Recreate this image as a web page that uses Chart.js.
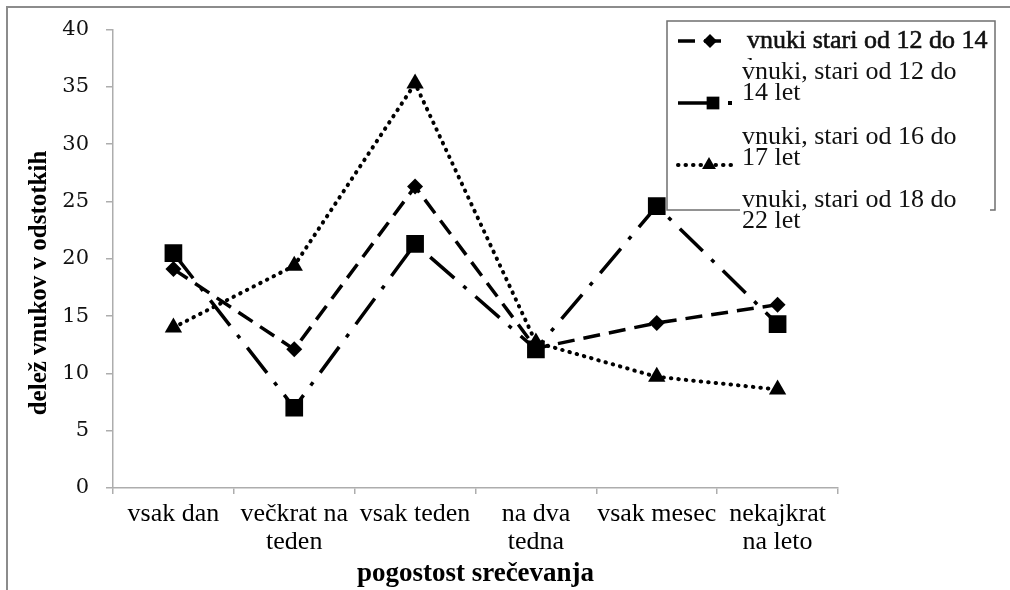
<!DOCTYPE html>
<html lang="sl">
<head>
    <meta charset="UTF-8">
    <title>Pogostost srečevanja</title>
    <script src="https://cdn.jsdelivr.net/npm/chart.js"></script>
    <style>
        body {
            margin: 0;
            background: #fff;
        }
        #chart {
            display: block;
        }
    </style>
</head>
<body>
    <canvas id="chart" width="1010" height="590"></canvas>

    <script>
        // categories (x axis)
        const categories = [
            'vsak dan',
            ['večkrat na', 'teden'],
            'vsak teden',
            ['na dva', 'tedna'],
            'vsak mesec',
            ['nekajkrat', 'na leto']
        ];

        // series values (%)
        const diamondValues = [19.1, 12.1, 26.3, 12.2, 14.4, 16.0];
        const squareValues = [20.5, 7.0, 21.3, 12.1, 24.6, 14.3];
        const triangleValues = [14.0, 19.4, 35.3, 12.7, 9.7, 8.6];

        // legend texts, as they stand in the original
        const seriesLabels = [
            'vnuki stari od 12 do 14 let',
            'vnuki, stari od 12 do 14 let',
            'vnuki, stari od 16 do 17 let'
        ];
        const legendLines = [
            ['vnuki stari od 12 do 14', 'let'],
            ['vnuki, stari od 12 do', '14 let'],
            ['vnuki, stari od 16 do', '17 let'],
            ['vnuki, stari od 18 do', '22 let']
        ];

        const yTitle = 'delež vnukov v odstotkih';
        const xTitle = 'pogostost srečevanja';
        const yMin = 0, yMax = 40, yStep = 5;

        const serif = '"Liberation Serif", "Times New Roman", serif';
        const axisGrey = '#adadad';

        // white page + grey frame on top and left edge
        const framePlugin = {
            id: 'frame',
            beforeDraw(chart) {
                const ctx = chart.ctx;
                ctx.save();
                ctx.fillStyle = '#fff';
                ctx.fillRect(0, 0, chart.width, chart.height);
                ctx.restore();
            },
            afterDraw(chart) {
                const ctx = chart.ctx;
                ctx.save();
                ctx.strokeStyle = '#8c8c8c';
                ctx.lineWidth = 2;
                ctx.beginPath();
                ctx.moveTo(7, chart.height);
                ctx.lineTo(7, 7);
                ctx.lineTo(chart.width, 7);
                ctx.stroke();
                ctx.restore();
            }
        };

        // rotated y title (sits a bit lower than the axis middle)
        const yTitlePlugin = {
            id: 'yTitle',
            afterDraw(chart) {
                const ctx = chart.ctx;
                ctx.save();
                ctx.translate(40, 283);
                ctx.rotate(-Math.PI / 2);
                ctx.font = 'bold 25px ' + serif;
                ctx.fillStyle = '#000';
                ctx.textAlign = 'center';
                ctx.textBaseline = 'middle';
                ctx.fillText(yTitle, 0, 0);
                ctx.restore();
            }
        };

        function drawMarker(ctx, style, x, y, r) {
            ctx.beginPath();
            if (style === 'rect') {
                const s = r * Math.SQRT1_2;
                ctx.rect(x - s, y - s, 2 * s, 2 * s);
            } else if (style === 'rectRot') {
                ctx.moveTo(x, y - r);
                ctx.lineTo(x + r, y);
                ctx.lineTo(x, y + r);
                ctx.lineTo(x - r, y);
                ctx.closePath();
            } else {
                const h = r * 0.866;
                ctx.moveTo(x, y - r);
                ctx.lineTo(x + h, y + r / 2);
                ctx.lineTo(x - h, y + r / 2);
                ctx.closePath();
            }
            ctx.fill();
        }

        // the odd legend box of the original
        const legendPlugin = {
            id: 'oddLegend',
            afterDraw(chart) {
                const ctx = chart.ctx;
                const ds = chart.data.datasets;
                ctx.save();

                ctx.fillStyle = '#fff';
                ctx.fillRect(667, 21, 328, 189);
                ctx.strokeStyle = '#6f6f6f';
                ctx.lineWidth = 1.5;
                ctx.strokeRect(667, 21, 328, 189);

                // symbols
                const symY = [41, 103, 165];
                const symEnd = [728, 712, 738];
                const markX = [710, 713, 709];
                const markR = [7, 9, 8];
                ds.forEach((d, i) => {
                    ctx.save();
                    ctx.strokeStyle = '#000';
                    ctx.lineWidth = d.borderWidth;
                    ctx.lineCap = d.borderCapStyle || 'butt';
                    ctx.setLineDash(d.borderDash || []);
                    ctx.beginPath();
                    ctx.moveTo(678, symY[i]);
                    ctx.lineTo(symEnd[i], symY[i]);
                    ctx.stroke();
                    ctx.restore();
                    ctx.fillStyle = '#000';
                    drawMarker(ctx, d.pointStyle, markX[i], symY[i], markR[i]);
                });
                ctx.fillRect(728, 101, 4, 4);

                ctx.font = '26px ' + serif;
                ctx.textBaseline = 'middle';
                ctx.fillStyle = '#111';

                // entry 1, second line mostly hidden
                ctx.lineWidth = 0.6;
                ctx.strokeStyle = '#111';
                ctx.fillText(legendLines[0][0], 747, 41);
                ctx.strokeText(legendLines[0][0], 747, 41);
                ctx.save();
                ctx.beginPath();
                ctx.rect(740, 50, 250, 10);
                ctx.clip();
                ctx.fillText(legendLines[0][1], 747, 68);
                ctx.restore();

                // entries 2 and 3
                ctx.fillText(legendLines[1][0], 742, 72);
                ctx.fillText(legendLines[1][1], 742, 93);
                ctx.fillText(legendLines[2][0], 742, 137);
                ctx.fillText(legendLines[2][1], 742, 158);

                // entry 4 runs over the bottom edge of the box
                ctx.fillStyle = '#fff';
                ctx.fillRect(740, 188, 250, 46);
                ctx.fillStyle = '#111';
                ctx.fillText(legendLines[3][0], 742, 200);
                ctx.fillText(legendLines[3][1], 742, 221);

                ctx.restore();
            }
        };

        new Chart(document.getElementById('chart'), {
            type: 'line',
            data: {
                labels: categories,
                datasets: [{
                    label: seriesLabels[0],
                    data: diamondValues,
                    borderColor: '#000',
                    backgroundColor: '#000',
                    borderWidth: 3.5,
                    borderDash: [17, 9],
                    pointStyle: 'rectRot',
                    pointRadius: 8,
                    pointBorderWidth: 0,
                    tension: 0
                }, {
                    label: seriesLabels[1],
                    data: squareValues,
                    borderColor: '#000',
                    backgroundColor: '#000',
                    borderWidth: 3.5,
                    borderDash: [32, 12, 4, 12],
                    pointStyle: 'rect',
                    pointRadius: 12.5,
                    pointBorderWidth: 0,
                    tension: 0
                }, {
                    label: seriesLabels[2],
                    data: triangleValues,
                    borderColor: '#000',
                    backgroundColor: '#000',
                    borderWidth: 4,
                    borderCapStyle: 'round',
                    borderDash: [0.5, 7],
                    pointStyle: 'triangle',
                    pointRadius: 10,
                    pointBorderWidth: 0,
                    tension: 0
                }]
            },
            options: {
                responsive: false,
                animation: false,
                layout: {
                    padding: { top: 28, right: 172, bottom: 0, left: 0 }
                },
                plugins: {
                    legend: { display: false },
                    tooltip: { enabled: false }
                },
                scales: {
                    x: {
                        offset: true,
                        afterFit: (s) => { s.height = 102; },
                        border: { color: axisGrey, width: 1.5 },
                        grid: {
                            offset: true,
                            drawOnChartArea: false,
                            drawTicks: true,
                            tickLength: 6,
                            color: axisGrey,
                            lineWidth: 1.5
                        },
                        ticks: {
                            autoSkip: false,
                            maxRotation: 0,
                            padding: 6,
                            color: '#000',
                            font: { family: serif, size: 26, lineHeight: 28 / 26 }
                        },
                        title: {
                            display: true,
                            text: xTitle,
                            color: '#000',
                            padding: { top: 0, bottom: 0 },
                            font: { family: serif, size: 27, weight: 'bold' }
                        }
                    },
                    y: {
                        min: yMin,
                        max: yMax,
                        afterFit: (s) => { s.width = 113; },
                        border: { color: axisGrey, width: 1.5 },
                        grid: {
                            drawOnChartArea: false,
                            drawTicks: true,
                            tickLength: 7,
                            color: axisGrey,
                            lineWidth: 1.5
                        },
                        ticks: {
                            stepSize: yStep,
                            padding: 17,
                            color: '#111',
                            font: { family: '"DejaVu Serif", serif', size: 21 }
                        }
                    }
                }
            },
            plugins: [framePlugin, yTitlePlugin, legendPlugin]
        });
    </script>
</body>
</html>
